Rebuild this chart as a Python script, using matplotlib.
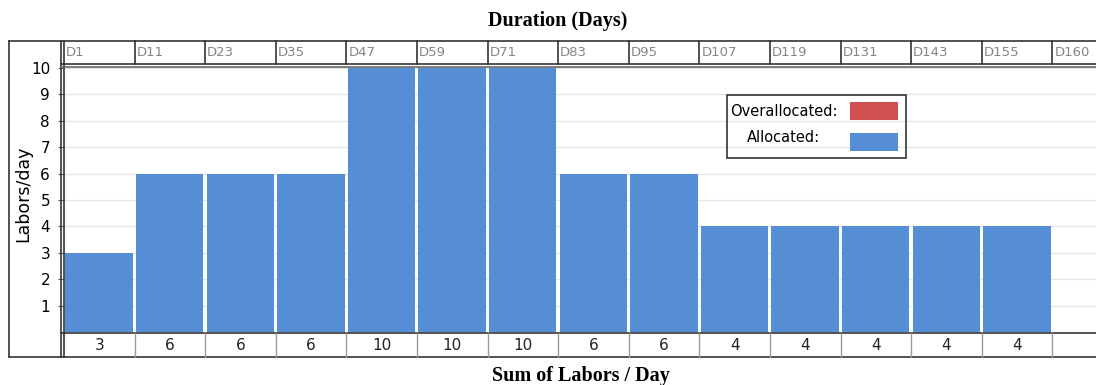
import matplotlib.pyplot as plt
from matplotlib.patches import Rectangle
from matplotlib.lines import Line2D

# ================= DATA =================
day_labels = ["D1", "D11", "D23", "D35", "D47", "D59", "D71", "D83", "D95",
              "D107", "D119", "D131", "D143", "D155", "D160"]
labors = [3, 6, 6, 6, 10, 10, 10, 6, 6, 4, 4, 4, 4, 4]
y_ticks = [1, 2, 3, 4, 5, 6, 7, 8, 9, 10]

BLUE = "#558ed5"
RED = "#d05050"
W, H = 1096, 385

fig = plt.figure(figsize=(W / 100, H / 100), dpi=100)
plt.rcParams['font.family'] = ['DejaVu Sans']


def fx(px):
    return px / W


def fy(py):
    return 1 - py / H


# main plot area (pixels): x 64..1096, y 68..332
col_w = 70.6
ax = fig.add_axes([fx(64), fy(332), fx(W - 64), (332 - 68) / H])
ax.set_xlim(0, (W - 64) / col_w)
ax.set_ylim(0, 10)

ax.bar([i + 0.02 for i in range(len(labors))], labors, width=0.955,
       align="edge", color=BLUE, linewidth=0, zorder=2)

for t in y_ticks:
    ax.axhline(t, color="#e6e6e6", lw=1, zorder=1)

ax.set_yticks(y_ticks)
ax.set_yticklabels([str(t) for t in y_ticks], fontsize=11)
ax.tick_params(axis="y", length=4, pad=6, color="#606060")
ax.set_xticks([])
for s in ax.spines.values():
    s.set_visible(False)


# frame lines in figure pixels
def hline(y, x0, x1, lw=1.2, color="#333333"):
    fig.add_artist(Line2D([fx(x0), fx(x1)], [fy(y), fy(y)], lw=lw, color=color))


def vline(x, y0, y1, lw=1.2, color="#333333"):
    fig.add_artist(Line2D([fx(x), fx(x)], [fy(y0), fy(y1)], lw=lw, color=color))


hline(41, 9, W)
hline(357, 9, W)
vline(9, 41, 357)
vline(61, 41, 357)
vline(63.5, 41, 357)
hline(64, 61, W)
hline(67, 61, W, color="#666666")
hline(333, 61, W)

# header and footer cells
for i, lab in enumerate(day_labels):
    x0 = 64 + i * col_w
    if i > 0:
        vline(x0, 41, 64, color="#333333")
        vline(x0, 333, 357, lw=1, color="#999999")
    fig.text(fx(x0 + 2), fy(53), lab, fontsize=9.5, color="#858585",
             ha="left", va="center")
    if i < len(labors):
        fig.text(fx(x0 + col_w / 2), fy(346), str(labors[i]), fontsize=11,
                 ha="center", va="center", color="#222222")

# titles
fig.text(fx(558), fy(21), "Duration (Days)", fontsize=14.5, fontweight="bold",
         family="Liberation Serif", ha="center", va="center")
fig.text(fx(581), fy(376), "Sum of Labors / Day", fontsize=14.5, fontweight="bold",
         family="Liberation Serif", ha="center", va="center")
fig.text(fx(23), fy(194), "Labors/day", fontsize=12.5, rotation=90,
         ha="center", va="center")

# legend box
fig.add_artist(Rectangle((fx(727), fy(158)), fx(906 - 727), (158 - 95) / H,
                         fill=False, edgecolor="#333333", lw=1.2))
fig.add_artist(Rectangle((fx(850), fy(120)), fx(48), 18 / H,
                         facecolor=RED, edgecolor="none"))
fig.add_artist(Rectangle((fx(850), fy(151)), fx(48), 18 / H,
                         facecolor=BLUE, edgecolor="none"))
fig.text(fx(838), fy(111), "Overallocated:", fontsize=10.5, ha="right", va="center")
fig.text(fx(820), fy(138), "Allocated:", fontsize=10.5, ha="right", va="center")

fig.savefig("out.png", dpi=100)
